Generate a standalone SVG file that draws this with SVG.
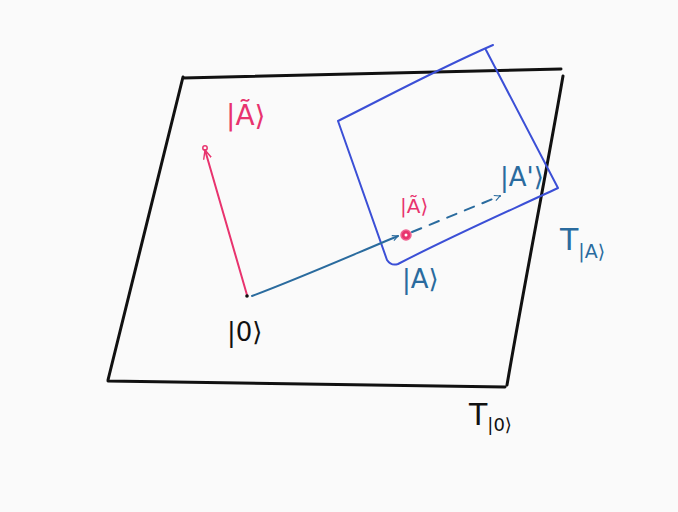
<svg xmlns="http://www.w3.org/2000/svg" width="678" height="512" viewBox="0 0 678 512">
<defs>
<style>
.plane{fill:none;stroke:#111;stroke-width:3;stroke-linecap:round;stroke-linejoin:round}
.tan{fill:none;stroke:#3b4fd6;stroke-width:2;stroke-linecap:round;stroke-linejoin:round}
.vec{fill:none;stroke:#2a6b9e;stroke-width:2;stroke-linecap:round}
.red{fill:none;stroke:#e8336e;stroke-width:2;stroke-linecap:round}
.lbl{font-family:"DejaVu Sans","Liberation Sans",sans-serif;font-weight:normal}
.k{fill:#111}.b{fill:#2a6b9e}.r{fill:#e8336e}
</style>
<marker id="ab" viewBox="0 0 10 10" refX="9" refY="5" markerWidth="7" markerHeight="7" orient="auto" markerUnits="userSpaceOnUse">
<path d="M1,1 L9,5 L1,9" fill="none" stroke="#2a6b9e" stroke-width="1.6"/>
</marker>
<marker id="ar" viewBox="0 0 10 10" refX="9" refY="5" markerWidth="10" markerHeight="10" orient="auto" markerUnits="userSpaceOnUse">
<path d="M0,1 L9,5 L0,9" fill="none" stroke="#e8336e" stroke-width="1.4"/>
</marker>
</defs>
<rect width="678" height="512" fill="#fafafa"/>
<g id="plane-T0">
<path class="plane" d="M183,77 L108,380 M108,381 L505,387 M183,78 C300,76 420,73 561,69 M563,76 C545,180 525,280 507,385"/>
</g>
<g id="plane-TA">
<path class="tan" d="M338,121 C390,95 440,68 493,45 M486,50 L558,188 C500,215 450,237 398,264 C392,266 389,263 387,260 L338,121"/>
</g>
<g id="connectors">
<path class="red" d="M247,295 L205,150" marker-end="url(#ar)"/>
<circle cx="205" cy="148" r="2.2" fill="none" stroke="#e8336e" stroke-width="1.5"/>
<path class="vec" d="M252,296 C300,278 350,256 398,236" marker-end="url(#ab)"/>
<path class="vec" d="M412,232 L500,196" stroke-dasharray="10,9" marker-end="url(#ab)"/>
<circle cx="406" cy="235" r="5" fill="#e8336e" stroke="#f06090" stroke-width="1.5"/>
<circle cx="406" cy="235" r="1.5" fill="#fff"/>
<circle cx="247" cy="296" r="1.8" fill="#111"/>
</g>
<g id="label-Atilde">
<text class="lbl r" x="226" y="125" font-size="28">|Ã⟩</text>
</g>
<g id="label-0">
<text class="lbl k" x="227" y="341" font-size="26">|0⟩</text>
</g>
<g id="label-T0">
<text class="lbl k" x="469" y="425" font-size="30">T<tspan font-size="18" dy="6">|0⟩</tspan></text>
</g>
<g id="label-TA">
<text class="lbl b" x="560" y="250" font-size="30">T<tspan font-size="19" dy="8">|A⟩</tspan></text>
</g>
<g id="label-A">
<text class="lbl b" x="402" y="288" font-size="26">|A⟩</text>
</g>
<g id="label-Aprime">
<text class="lbl b" x="500" y="186" font-size="26">|A'⟩</text>
</g>
<g id="label-Atilde-small">
<text class="lbl r" x="400" y="213" font-size="20">|Ã⟩</text>
</g>
</svg>
